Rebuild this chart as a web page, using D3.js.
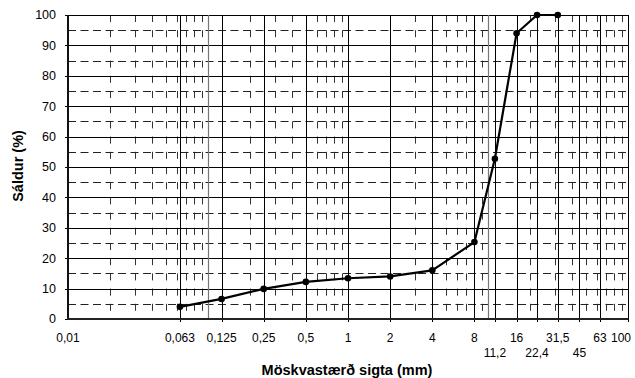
<!DOCTYPE html>
<html>
<head>
<meta charset="utf-8">
<script src="https://cdn.jsdelivr.net/npm/d3@7"></script>
<style>
  html, body { margin: 0; padding: 0; background: #fff; }
  svg { display: block; font-family: Arial, "Liberation Sans", sans-serif; }
</style>
</head>
<body>
<svg id="chart" width="635" height="378"></svg>
<script>
// Sieve sizes (mm) and passing percentages
const sieveSizes = [0.063, 0.125, 0.25, 0.5, 1, 2, 4, 8, 11.2, 16, 22.4, 31.5];
const passing    = [4.0, 6.6, 9.9, 12.2, 13.4, 14.0, 16.0, 25.3, 52.7, 94.0, 100, 100];

// Axis tick values and labels
const gridSieves   = [0.063, 0.125, 0.25, 0.5, 1, 2, 4, 8, 11.2, 16, 22.4, 31.5, 45, 63, 100];
const upperLabels  = [0.01, 0.063, 0.125, 0.25, 0.5, 1, 2, 4, 8, 16, 31.5, 63, 100];
const lowerLabels  = [11.2, 22.4, 45];
const decades      = [0.01, 0.1, 1, 10];
const yMajor       = [0, 10, 20, 30, 40, 50, 60, 70, 80, 90, 100];
const yMinor       = [5, 15, 25, 35, 45, 55, 65, 75, 85, 95];

const fmt = v => String(v).replace('.', ',');

const svg = d3.select('#chart');
const W = 635;
const margin = { left: 68, right: 7, top: 15, bottom: 59 };

const x = d3.scaleLog().domain([0.01, 100]).range([margin.left, W - margin.right]);
const y = d3.scaleLinear().domain([0, 100]).range([319, margin.top]);
const px = v => Math.round(x(v)) + 0.5;
const py = v => Math.round(y(v)) + 0.5;

const g = svg.append('g');

// Minor log grid (2..9 inside every decade), dashed
const minorX = [];
decades.forEach(d => { for (let k = 2; k <= 9; k++) minorX.push(+(d * k).toPrecision(3)); });
g.append('g').selectAll('line').data(minorX).join('line')
  .attr('x1', d => px(d)).attr('x2', d => px(d))
  .attr('y1', y(100)).attr('y2', y(0))
  .attr('stroke', '#333').attr('stroke-width', 1)
  .attr('stroke-dasharray', '7,8.2');

// Horizontal dashed lines at the 5 % steps
g.append('g').selectAll('line').data(yMinor).join('line')
  .attr('x1', x(0.01)).attr('x2', x(100))
  .attr('y1', d => py(d)).attr('y2', d => py(d))
  .attr('stroke', '#222').attr('stroke-width', 1)
  .attr('stroke-dasharray', '8,4.5');

// Horizontal solid lines at the 10 % steps
g.append('g').selectAll('line').data(yMajor.filter(v => v > 0)).join('line')
  .attr('x1', x(0.01)).attr('x2', x(100))
  .attr('y1', d => py(d)).attr('y2', d => py(d))
  .attr('stroke', '#000').attr('stroke-width', 1);

// Decade lines
g.append('g').selectAll('line').data([0.1, 10]).join('line')
  .attr('x1', d => px(d)).attr('x2', d => px(d))
  .attr('y1', y(100)).attr('y2', y(0))
  .attr('stroke', '#777').attr('stroke-width', 1.2);

// Sieve lines
g.append('g').selectAll('line').data(gridSieves).join('line')
  .attr('x1', d => px(d)).attr('x2', d => px(d))
  .attr('y1', y(100)).attr('y2', y(0) + 3)
  .attr('stroke', '#000').attr('stroke-width', 1);

// Y axis ticks
g.append('g').selectAll('line').data(yMajor).join('line')
  .attr('x1', x(0.01) - 3).attr('x2', x(0.01))
  .attr('y1', d => py(d)).attr('y2', d => py(d))
  .attr('stroke', '#000');

// Axis lines
g.append('line')
  .attr('x1', x(0.01)).attr('x2', x(0.01))
  .attr('y1', y(100)).attr('y2', y(0) + 1)
  .attr('stroke', '#111').attr('stroke-width', 2);
g.append('line')
  .attr('x1', x(0.01) - 1).attr('x2', x(100))
  .attr('y1', y(0)).attr('y2', y(0))
  .attr('stroke', '#222').attr('stroke-width', 2);

// Y tick labels
g.append('g').selectAll('text').data(yMajor).join('text')
  .attr('x', 56).attr('y', d => y(d)).attr('dy', '0.35em')
  .attr('text-anchor', 'end').attr('font-size', 12.5).attr('fill', '#000')
  .text(d => d);

// X tick labels (two rows)
const placeLabel = (sel, yPos) => sel
  .attr('x', d => Math.min(x(d), W - 14))
  .attr('y', yPos)
  .attr('text-anchor', 'middle').attr('font-size', 12).attr('fill', '#000')
  .text(d => fmt(d));
g.append('g').selectAll('text').data(upperLabels).join('text').call(placeLabel, 342);
g.append('g').selectAll('text').data(lowerLabels).join('text').call(placeLabel, 357);

// Curve
const line = d3.line().x(d => x(d[0])).y(d => y(d[1]));
const pts = sieveSizes.map((s, i) => [s, passing[i]]);
g.append('path').datum(pts)
  .attr('d', line).attr('fill', 'none')
  .attr('stroke', '#000').attr('stroke-width', 2.2).attr('stroke-linejoin', 'round');
g.append('g').selectAll('circle').data(pts).join('circle')
  .attr('cx', d => x(d[0])).attr('cy', d => y(d[1])).attr('r', 3.3)
  .attr('fill', '#000');

// Axis titles
svg.append('text')
  .attr('transform', 'translate(23,166) rotate(-90)')
  .attr('text-anchor', 'middle').attr('font-size', 14.5).attr('font-weight', 'bold')
  .text('Sáldur (%)');
svg.append('text')
  .attr('x', 347).attr('y', 375)
  .attr('text-anchor', 'middle').attr('font-size', 14.5).attr('font-weight', 'bold')
  .text('Möskvastærð sigta (mm)');
</script>
</body>
</html>
